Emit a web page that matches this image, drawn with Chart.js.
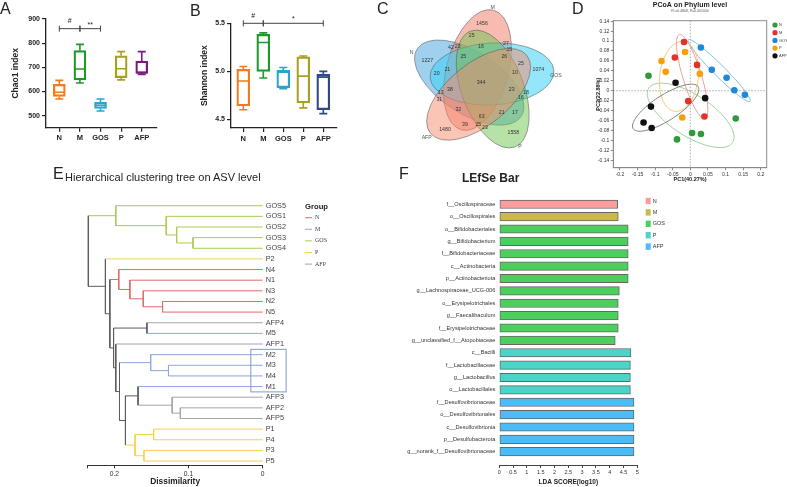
<!DOCTYPE html>
<html>
<head>
<meta charset="utf-8">
<title>Gut microbiota panels</title>
<script src="https://cdn.jsdelivr.net/npm/chart.js@4.4.1/dist/chart.umd.min.js"></script>
<style>
  body { margin: 0; background: #fff; }
  #fig { position: relative; width: 787px; height: 487px; overflow: hidden; font-family: "Liberation Sans", Arial, sans-serif; color: #222; }
  #fig canvas { position: absolute; }
  .tag { position: absolute; font-size: 16px; line-height: 16px; }
  .ttl { position: absolute; line-height: 1; white-space: nowrap; }
</style>
</head>
<body>
<div id="fig">
  <canvas id="chao" width="165" height="150" style="left:0;top:0"></canvas>
  <canvas id="shannon" width="180" height="150" style="left:165px;top:0"></canvas>
  <canvas id="venn" width="175" height="160" style="left:395px;top:0"></canvas>
  <canvas id="pcoa" width="217" height="190" style="left:570px;top:0"></canvas>
  <canvas id="tree" width="340" height="327" style="left:0;top:160px"></canvas>
  <canvas id="lefse" width="447" height="327" style="left:340px;top:160px"></canvas>

  <div class="tag" style="left:0;top:1px">A</div>
  <div class="tag" style="left:190px;top:3px">B</div>
  <div class="tag" style="left:377px;top:1px">C</div>
  <div class="tag" style="left:572px;top:1px">D</div>
  <div class="tag" style="left:53px;top:166px">E</div>
  <div class="tag" style="left:399px;top:166px">F</div>
  <div class="ttl" style="left:65px;top:172px;font-size:11px">Hierarchical clustering tree on ASV level</div>
  <div class="ttl" style="left:462px;top:172px;font-size:12px;font-weight:bold">LEfSe Bar</div>
</div>

<script>
// ---- data ----
const groups = ['N', 'M', 'GOS', 'P', 'AFP'];

// A: Chao1 index (box: min, q1, median, q3, max)
const chaoMin = [569, 635, 519, 648, 670];
const chaoQ1  = [579, 648, 530, 657, 675];
const chaoMed = [597, 693, 543, 694, 678];
const chaoQ3  = [630, 769, 555, 748, 726];
const chaoMax = [646, 795, 569, 765, 765];
const chaoTicks = [500, 600, 700, 800, 900];
const chaoSig = [['N', 'M', '#'], ['M', 'GOS', '**']];

// B: Shannon index
const shanMin = [4.60, 4.93, 4.82, 4.62, 4.56];
const shanQ1  = [4.64, 5.00, 4.83, 4.67, 4.60];
const shanMed = [4.90, 5.30, 4.99, 4.95, 4.94];
const shanQ3  = [5.02, 5.385, 5.01, 5.15, 4.97];
const shanMax = [5.05, 5.40, 5.04, 5.16, 5.00];
const shanTicks = [4.5, 5.0, 5.5];
const shanSig = [['N', 'M', '#'], ['M', 'AFP', '*']];

// C: Venn counts (region labels) and set names
const vennSets = ['N', 'M', 'GOS', 'P', 'AFP'];
const vennCounts = [1456, 25, 42, 23, 16, 27, 15, 1227, 25, 26, 25, 1074, 20, 21, 10, 344,
                    38, 23, 18, 13, 31, 16, 32, 21, 17, 63, 39, 25, 23, 1480, 1558];

// D: PCoA coordinates [PC1, PC2]
const pcoaN   = [[-0.119, 0.030], [0.129, -0.056], [-0.038, -0.098], [0.005, -0.085], [0.030, -0.087]];
const pcoaM   = [[-0.018, 0.098], [-0.044, 0.067], [0.019, 0.052], [-0.006, -0.021], [0.040, -0.052]];
const pcoaGOS = [[0.030, 0.087], [0.061, 0.042], [0.103, 0.026], [0.125, 0.001], [0.155, -0.008]];
const pcoaP   = [[-0.082, 0.060], [-0.070, 0.038], [-0.015, 0.078], [0.027, 0.034], [-0.023, -0.054]];
const pcoaAFP = [[-0.042, 0.016], [0.042, -0.015], [-0.112, -0.032], [-0.133, -0.064], [-0.110, -0.075]];
const pcoaXTicks = [-0.2, -0.15, -0.1, -0.05, 0, 0.05, 0.1, 0.15, 0.2];
const pcoaYTicks = [-0.14, -0.12, -0.1, -0.08, -0.06, -0.04, -0.02, 0, 0.02, 0.04, 0.06, 0.08, 0.1, 0.12, 0.14];

// E: dendrogram leaves (top to bottom) and merges [childA, childB, height]
const leaves = ['GOS5', 'GOS1', 'GOS2', 'GOS3', 'GOS4', 'P2', 'N4', 'N1', 'N3', 'N2', 'N5', 'AFP4', 'M5',
                'AFP1', 'M2', 'M3', 'M4', 'M1', 'AFP3', 'AFP2', 'AFP5', 'P1', 'P4', 'P3', 'P5'];
const dendroMerges = [
  ['GOS3', 'GOS4', 0.094], ['GOS2', 0, 0.116], ['GOS1', 1, 0.130], ['GOS5', 2, 0.198],
  ['N2', 'N5', 0.135], ['N3', 4, 0.161], ['N1', 5, 0.179], ['N4', 6, 0.194],
  ['AFP4', 'M5', 0.156], ['M3', 'M4', 0.127], ['M2', 9, 0.151],
  ['AFP2', 'AFP5', 0.111], ['AFP3', 11, 0.122], ['M1', 12, 0.168],
  ['P1', 'P4', 0.147], ['P3', 'P5', 0.160], [14, 15, 0.172],
  [13, 16, 0.185], [10, 17, 0.193], ['AFP1', 18, 0.198], [8, 19, 0.201],
  [7, 20, 0.206], ['P2', 21, 0.212], [3, 22, 0.235]
];
const dendroTicks = [0, 0.1, 0.2];

// F: LEfSe
const lefseTaxa = ['f__Oscillospiraceae', 'o__Oscillospirales', 'o__Bifidobacteriales', 'g__Bifidobacterium',
  'f__Bifidobacteriaceae', 'c__Actinobacteria', 'p__Actinobacteriota', 'g__Lachnospiraceae_UCG-006',
  'o__Erysipelotrichales', 'g__Faecalibaculum', 'f__Erysipelotrichaceae', 'g__unclassified_f__Atopobiaceae',
  'c__Bacilli', 'f__Lactobacillaceae', 'g__Lactobacillus', 'o__Lactobacillales', 'f__Desulfovibrionaceae',
  'o__Desulfovibrionales', 'c__Desulfovibrionia', 'p__Desulfobacterota', 'g__norank_f__Desulfovibrionaceae'];
const lefseGroup = ['N', 'M', 'GOS', 'GOS', 'GOS', 'GOS', 'GOS', 'GOS', 'GOS', 'GOS', 'GOS', 'GOS',
  'P', 'P', 'P', 'P', 'AFP', 'AFP', 'AFP', 'AFP', 'AFP'];
const lefseLDA = [4.29, 4.31, 4.67, 4.67, 4.67, 4.67, 4.67, 4.35, 4.31, 4.31, 4.31, 4.20,
  4.77, 4.75, 4.75, 4.75, 4.88, 4.88, 4.88, 4.88, 4.88];
const ldaTicks = [0, 0.5, 1, 1.5, 2, 2.5, 3, 3.5, 4, 4.5, 5];

// ---- styling ----
const FONT = '"Liberation Sans", Arial, sans-serif';
Chart.defaults.font.family = FONT;
Chart.defaults.color = '#222';
Chart.defaults.animation = false;
Chart.defaults.responsive = false;
Chart.defaults.plugins.legend.display = false;
Chart.defaults.plugins.tooltip.enabled = false;

const fixSize = size => scale => {
  if (scale.isHorizontal()) scale.height = size; else scale.width = size;
};

// ---- A & B: box plots ----
function boxPlot(id, s) {
  const boxParts = {
    id: 'boxParts',
    afterDatasetsDraw(chart) {
      const { ctx, scales: { x, y } } = chart;
      ctx.save();
      ctx.lineWidth = 1.6;
      groups.forEach((g, i) => {
        const cx = x.getPixelForValue(i);
        const top = y.getPixelForValue(s.max[i]), bot = y.getPixelForValue(s.min[i]);
        const q1 = y.getPixelForValue(s.q1[i]), q3 = y.getPixelForValue(s.q3[i]);
        const md = y.getPixelForValue(s.med[i]);
        ctx.strokeStyle = s.colors[i];
        ctx.beginPath();
        ctx.moveTo(cx, q3); ctx.lineTo(cx, top);
        ctx.moveTo(cx - s.capW / 2, top); ctx.lineTo(cx + s.capW / 2, top);
        ctx.moveTo(cx, q1); ctx.lineTo(cx, bot);
        ctx.moveTo(cx - s.capW / 2, bot); ctx.lineTo(cx + s.capW / 2, bot);
        ctx.moveTo(cx - s.boxW / 2 + 1, md); ctx.lineTo(cx + s.boxW / 2 - 1, md);
        ctx.stroke();
      });
      // significance brackets
      const by = y.getPixelForValue(s.sigLevel);
      ctx.strokeStyle = '#444';
      ctx.lineWidth = 1;
      ctx.fillStyle = '#222';
      ctx.font = '7px ' + FONT;
      ctx.textAlign = 'center';
      s.sig.forEach(([a, b, txt]) => {
        const x1 = x.getPixelForValue(groups.indexOf(a));
        const x2 = x.getPixelForValue(groups.indexOf(b));
        ctx.beginPath();
        ctx.moveTo(x1, by); ctx.lineTo(x2, by);
        ctx.moveTo(x1, by - 3); ctx.lineTo(x1, by + 3);
        ctx.moveTo(x2, by - 3); ctx.lineTo(x2, by + 3);
        ctx.stroke();
        ctx.fillText(txt, (x1 + x2) / 2, by - (txt.includes('#') ? 5.5 : 2));
      });
      ctx.restore();
    }
  };

  return new Chart(document.getElementById(id), {
    type: 'bar',
    data: {
      datasets: [{
        data: groups.map((g, i) => ({ x: i, y: [s.q1[i], s.q3[i]] })),
        backgroundColor: 'rgba(255,255,255,0)',
        borderColor: s.colors,
        borderWidth: 1.6,
        borderSkipped: false,
        barThickness: s.boxW
      }]
    },
    options: {
      layout: { padding: s.pad },
      scales: {
        x: {
          type: 'linear', min: s.xMin, max: s.xMax, offset: false,
          afterBuildTicks: sc => { sc.ticks = groups.map((g, i) => ({ value: i })); },
          afterFit: fixSize(s.xH),
          ticks: { callback: v => groups[v], font: { size: 7.5, weight: 'bold' }, padding: 2, autoSkip: false, maxRotation: 0 },
          grid: { drawOnChartArea: false, offset: false, tickLength: 4, color: '#222', lineWidth: 1.2 },
          border: { color: '#222', width: 1.3 }
        },
        y: {
          min: s.yMin, max: s.yMax,
          afterBuildTicks: sc => { sc.ticks = s.ticks.map(v => ({ value: v })); },
          afterFit: fixSize(s.yW),
          ticks: { callback: s.fmt, font: { size: 7, weight: 'bold' }, padding: 2 },
          grid: { drawOnChartArea: false, tickLength: 4, color: '#222', lineWidth: 1.2 },
          border: { color: '#222', width: 1.3 },
          title: { display: true, text: s.title, font: { size: 8.5, weight: 'bold' }, padding: 0 }
        }
      }
    },
    plugins: [boxParts]
  });
}

boxPlot('chao', {
  min: chaoMin, q1: chaoQ1, med: chaoMed, q3: chaoQ3, max: chaoMax,
  colors: ['#f47a1f', '#1f9a2a', '#2aa5c8', '#a8a020', '#7a1a7a'],
  ticks: chaoTicks, fmt: v => String(v), title: 'Chao1 index',
  sig: chaoSig, sigLevel: 860,
  yMin: 450, yMax: 900, xMin: -0.646, xMax: 4.74,
  pad: { left: 10.6, top: 19, right: 8, bottom: 0 }, yW: 35.4, xH: 22.3,
  boxW: 12, capW: 8
});

boxPlot('shannon', {
  min: shanMin, q1: shanQ1, med: shanMed, q3: shanQ3, max: shanMax,
  colors: ['#f47a1f', '#1f9a2a', '#2aa5c8', '#a8a020', '#2c4a80'],
  ticks: shanTicks, fmt: v => v.toFixed(1), title: 'Shannon index',
  sig: shanSig, sigLevel: 5.5,
  yMin: 4.41, yMax: 5.5, xMin: -0.615, xMax: 4.685,
  pad: { left: 34.8, top: 23.3, right: 8, bottom: 0 }, yW: 31.2, xH: 22,
  boxW: 13, capW: 8
});

// ---- C: five-set Venn ----
const vennColors = { N: 'rgba(80,170,222,0.55)', M: 'rgba(242,120,100,0.5)', GOS: 'rgba(60,210,245,0.55)',
                     P: 'rgba(110,196,80,0.5)', AFP: 'rgba(248,140,110,0.5)' };
// layout: ellipses are one shape rotated by 72 degree steps about the centre
const vennGeom = { cx: 482, cy: 82, off: 12.8, offAngle: 321.3, major: 357, a: 62, b: 31 };
const vennRot = { N: 3, M: 4, GOS: 0, P: 1, AFP: 2 };
const vennSetPos = { N: [411.7, 52.3], M: [492.7, 7.3], GOS: [556, 75.3], P: [520, 146.7], AFP: [426.7, 137.3] };
const vennCountPos = [[482, 23.3], [471.7, 36], [451, 47.7], [457.7, 46.7], [481, 46.7], [506, 43.3], [509.3, 50],
  [427.3, 60.7], [463.3, 56.7], [504.3, 56.7], [521, 63.3], [538.3, 70], [436.7, 74], [447.3, 70], [515, 72.7],
  [481, 82.7], [450, 90], [511.7, 90], [526, 92.7], [440.7, 92.7], [439.3, 100], [521, 97.7], [458.3, 110],
  [501.7, 112.7], [515, 112.7], [481.7, 116.7], [465, 125], [478.3, 125], [485, 127.7], [445, 129.3], [513.3, 132.7]];

const vennDraw = {
  id: 'vennDraw',
  afterDatasetsDraw(chart) {
    const { ctx, scales: { x, y } } = chart;
    const k = x.getPixelForValue(1) - x.getPixelForValue(0);
    const rad = d => d * Math.PI / 180;
    ctx.save();
    vennSets.forEach(set => {
      const r = vennRot[set] * 72;
      const oa = rad(vennGeom.offAngle + r);
      const ex = vennGeom.cx + vennGeom.off * Math.cos(oa);
      const ey = vennGeom.cy + vennGeom.off * Math.sin(oa);
      ctx.beginPath();
      ctx.ellipse(x.getPixelForValue(ex), y.getPixelForValue(ey), vennGeom.a * k, vennGeom.b * k,
                  rad(vennGeom.major + r), 0, Math.PI * 2);
      ctx.fillStyle = vennColors[set];
      ctx.fill();
      ctx.strokeStyle = 'rgba(90,90,90,0.7)';
      ctx.lineWidth = 0.8;
      ctx.stroke();
    });
    ctx.fillStyle = '#333';
    ctx.textAlign = 'center';
    ctx.textBaseline = 'middle';
    ctx.font = '5.2px ' + FONT;
    vennCounts.forEach((c, i) => {
      const [px, py] = vennCountPos[i];
      ctx.fillText(String(c), x.getPixelForValue(px), y.getPixelForValue(py));
    });
    ctx.fillStyle = '#555';
    vennSets.forEach(set => {
      const [px, py] = vennSetPos[set];
      ctx.fillText(set, x.getPixelForValue(px), y.getPixelForValue(py));
    });
    ctx.restore();
  }
};

new Chart(document.getElementById('venn'), {
  type: 'scatter',
  data: { datasets: [{ data: [] }] },
  options: {
    layout: { padding: 0 },
    scales: {
      x: { display: false, min: 395, max: 570 },
      y: { display: false, min: 0, max: 160, reverse: true }
    }
  },
  plugins: [vennDraw]
});

// ---- D: PCoA ----
const pcoaSeries = { N: pcoaN, M: pcoaM, GOS: pcoaGOS, P: pcoaP, AFP: pcoaAFP };
const pcoaColors = { N: '#2e9a3a', M: '#e8302a', GOS: '#1f88d8', P: '#f5a00a', AFP: '#111111' };
const pcoaEllColors = { N: '#9fd09f', M: '#f39a9a', GOS: '#7cbce8', P: '#f8c870', AFP: '#808080' };
// confidence ellipses: centre plus two semi-axis vectors, in data units
const pcoaEllipses = {
  N:   { c: [0.0009, -0.0496], u: [0.1192, -0.0547], v: [-0.0320, -0.0348] },
  M:   { c: [0.0052, 0.0285],  u: [0.0365, -0.0847], v: [0.0254, 0.0054] },
  GOS: { c: [0.0820, 0.0405],  u: [0.0877, -0.0620], v: [0.0114, 0.0080] },
  P:   { c: [-0.0322, 0.0288], u: [0.01185, 0.0703], v: [0.0546, -0.0046] },
  AFP: { c: [-0.0701, -0.0342], u: [0.0922, 0.0423], v: [0.0196, -0.0214] }
};

const pcoaDecor = {
  id: 'pcoaDecor',
  beforeDatasetsDraw(chart) {
    const { ctx, chartArea: a, scales: { x, y } } = chart;
    ctx.save();
    ctx.strokeStyle = '#9a9a9a';
    ctx.lineWidth = 0.8;
    ctx.setLineDash([1.5, 1.5]);
    ctx.beginPath();
    ctx.moveTo(x.getPixelForValue(0), a.top); ctx.lineTo(x.getPixelForValue(0), a.bottom);
    ctx.moveTo(a.left, y.getPixelForValue(0)); ctx.lineTo(a.right, y.getPixelForValue(0));
    ctx.stroke();
    ctx.setLineDash([]);
    ctx.lineWidth = 1;
    Object.keys(pcoaEllipses).forEach(g => {
      const e = pcoaEllipses[g];
      ctx.strokeStyle = pcoaEllColors[g];
      ctx.beginPath();
      for (let k = 0; k <= 90; k++) {
        const t = k / 90 * Math.PI * 2;
        const px = x.getPixelForValue(e.c[0] + e.u[0] * Math.cos(t) + e.v[0] * Math.sin(t));
        const py = y.getPixelForValue(e.c[1] + e.u[1] * Math.cos(t) + e.v[1] * Math.sin(t));
        if (k) ctx.lineTo(px, py); else ctx.moveTo(px, py);
      }
      ctx.closePath();
      ctx.stroke();
    });
    ctx.restore();
  },
  afterDraw(chart) {
    const { ctx, chartArea: a } = chart;
    ctx.save();
    ctx.strokeStyle = '#8a8a8a';
    ctx.lineWidth = 1;
    ctx.strokeRect(a.left, a.top, a.right - a.left, a.bottom - a.top);
    ctx.fillStyle = '#222';
    ctx.textAlign = 'center';
    ctx.textBaseline = 'middle';
    ctx.font = 'bold 7px ' + FONT;
    ctx.fillText('PCoA on Phylum level', (a.left + a.right) / 2, 5);
    ctx.font = '3.5px ' + FONT;
    ctx.fillStyle = '#555';
    ctx.fillText('R\u00b2=0.4808, P=0.001000', (a.left + a.right) / 2, 11);
    ctx.textAlign = 'left';
    ctx.font = '4px ' + FONT;
    chart.data.datasets.forEach((ds, i) => {
      const ly = 25 + i * 7.7;
      ctx.fillStyle = ds.backgroundColor;
      ctx.beginPath();
      ctx.arc(a.right + 8.3, ly, 2.6, 0, Math.PI * 2);
      ctx.fill();
      ctx.fillStyle = '#444';
      ctx.fillText(ds.label, a.right + 12.3, ly);
    });
    ctx.restore();
  }
};

const pcoaAxis = (ticks, title, size) => ({
  afterBuildTicks: sc => { sc.ticks = ticks.map(v => ({ value: v })); },
  afterFit: fixSize(size),
  ticks: { callback: v => String(v), font: { size: 5 }, color: '#333', padding: 1.5, autoSkip: false, maxRotation: 0 },
  grid: { drawOnChartArea: false, tickLength: 2.5, color: '#8a8a8a' },
  border: { color: '#8a8a8a' },
  title: { display: true, text: title, font: { size: 5.5, weight: 'bold' }, padding: 0 }
});

new Chart(document.getElementById('pcoa'), {
  type: 'scatter',
  data: {
    datasets: groups.map(g => ({
      label: g,
      data: pcoaSeries[g].map(([x, y]) => ({ x, y })),
      backgroundColor: pcoaColors[g],
      borderWidth: 0,
      pointRadius: 3.3
    }))
  },
  options: {
    layout: { padding: { left: 24.7, top: 20.7, right: 20.3, bottom: 7 } },
    scales: {
      x: Object.assign({ min: -0.219, max: 0.217 }, pcoaAxis(pcoaXTicks, 'PC1(40.27%)', 15.3)),
      y: Object.assign({ min: -0.155, max: 0.141 }, pcoaAxis(pcoaYTicks, 'PC2(22.88%)', 18.6))
    }
  },
  plugins: [pcoaDecor]
});

// ---- E: hierarchical clustering tree ----
const treeColors = { N: '#e06a6a', M: '#8ca6de', GOS: '#a9cb4e', P: '#f2d34e', AFP: '#a4a4a4' };
const mixedColor = '#5c5c5c';
const groupOf = name => name.replace(/\d+$/, '');
const nodes = [];
const segments = [];
const nodeOf = ref => typeof ref === 'string'
  ? { x: 0, y: leaves.indexOf(ref), groups: [groupOf(ref)] }
  : nodes[ref];
const colorOf = n => n.groups.length === 1 ? treeColors[n.groups[0]] : mixedColor;
dendroMerges.forEach(([a, b, h]) => {
  const A = nodeOf(a), B = nodeOf(b);
  const node = { x: h, y: (A.y + B.y) / 2, groups: [...new Set([...A.groups, ...B.groups])] };
  segments.push({ pts: [[A.x, A.y], [h, A.y]], color: colorOf(A) });
  segments.push({ pts: [[B.x, B.y], [h, B.y]], color: colorOf(B) });
  segments.push({ pts: [[h, A.y], [h, B.y]], color: colorOf(node) });
  nodes.push(node);
});

const treeDecor = {
  id: 'treeDecor',
  afterDraw(chart) {
    const { ctx, scales: { x, y } } = chart;
    ctx.save();
    // box round the M2-M4/M1 labels
    const left = x.getPixelForValue(0.016);
    const top = y.getPixelForValue(leaves.indexOf('M2') - 0.5);
    const bot = y.getPixelForValue(leaves.indexOf('M1') + 0.5);
    ctx.strokeStyle = '#8098cc';
    ctx.lineWidth = 1;
    ctx.strokeRect(left, top, 35.3, bot - top);
    // group legend
    ctx.fillStyle = '#222';
    ctx.font = 'bold 7.7px ' + FONT;
    ctx.textBaseline = 'middle';
    ctx.fillText('Group', 305, 46.7);
    ctx.font = '6px "Liberation Serif", "DejaVu Serif", serif';
    groups.forEach((g, i) => {
      const ly = 57.7 + i * 11.6;
      ctx.strokeStyle = treeColors[g];
      ctx.beginPath();
      ctx.moveTo(305, ly); ctx.lineTo(312, ly);
      ctx.stroke();
      ctx.fillStyle = '#444';
      ctx.fillText(g, 315, ly);
    });
    ctx.restore();
  }
};

new Chart(document.getElementById('tree'), {
  type: 'scatter',
  data: {
    datasets: segments.map(s => ({
      data: s.pts.map(([x, y]) => ({ x, y })),
      showLine: true, borderColor: s.color, borderWidth: 1, pointRadius: 0, clip: false
    }))
  },
  options: {
    layout: { padding: { left: 87.6, top: 40.4, right: 0, bottom: 0 } },
    scales: {
      x: {
        min: 0, max: 0.236, reverse: true,
        afterBuildTicks: sc => { sc.ticks = dendroTicks.concat([0.236]).map(v => ({ value: v })); },
        afterFit: fixSize(21.7),
        ticks: { callback: v => dendroTicks.includes(v) ? String(v) : '', font: { size: 6.7 }, color: '#333', padding: 2, autoSkip: false, maxRotation: 0 },
        grid: { drawOnChartArea: false, tickLength: 3, color: '#333' },
        border: { color: '#333' },
        title: { display: true, text: 'Dissimilarity', font: { size: 8.4, weight: 'bold' }, padding: 0 }
      },
      y: {
        position: 'right', min: -0.5, max: 24.4, reverse: true,
        afterBuildTicks: sc => { sc.ticks = leaves.map((l, i) => ({ value: i })); },
        afterFit: fixSize(77.3),
        ticks: { callback: v => leaves[v], font: { size: 7.3 }, color: '#444', padding: 3, autoSkip: false },
        grid: { display: false, drawTicks: false },
        border: { display: false }
      }
    }
  },
  plugins: [treeDecor]
});

// ---- F: LEfSe bars ----
const lefseColors = { N: '#fb9d9b', M: '#cdb84c', GOS: '#4ccf5c', P: '#4bd4c8', AFP: '#4bbcf8' };

const lefseLegend = {
  id: 'lefseLegend',
  afterDraw(chart) {
    const { ctx, chartArea: a } = chart;
    ctx.save();
    ctx.font = '5.5px ' + FONT;
    ctx.textBaseline = 'middle';
    chart.data.datasets.forEach((ds, i) => {
      const ly = 41 + i * 11.4;
      ctx.fillStyle = ds.backgroundColor;
      ctx.fillRect(a.right + 8.4, ly - 3.2, 5, 6.4);
      ctx.fillStyle = '#333';
      ctx.fillText(ds.label, a.right + 15.5, ly);
    });
    ctx.restore();
  }
};

new Chart(document.getElementById('lefse'), {
  type: 'bar',
  data: {
    datasets: groups.map(g => ({
      label: g,
      data: lefseTaxa.map((t, i) => ({ x: lefseLDA[i], y: i })).filter((d, i) => lefseGroup[i] === g),
      backgroundColor: lefseColors[g],
      borderColor: '#666',
      borderWidth: 1,
      borderSkipped: false,
      barThickness: 8.5,
      grouped: false
    }))
  },
  options: {
    indexAxis: 'y',
    layout: { padding: { left: 0, top: 38.1, right: 149.7, bottom: 1 } },
    scales: {
      x: {
        type: 'linear', min: 0, max: 5,
        afterBuildTicks: sc => { sc.ticks = ldaTicks.map(v => ({ value: v })); },
        afterFit: fixSize(21),
        ticks: { callback: v => String(v), font: { size: 5.5 }, color: '#333', padding: 1.5, autoSkip: false, maxRotation: 0 },
        grid: { drawOnChartArea: false, tickLength: 3, color: '#444' },
        border: { color: '#444' },
        title: { display: true, text: 'LDA SCORE(log10)', font: { size: 6.5, weight: 'bold' }, padding: 0 }
      },
      y: {
        type: 'linear', min: -0.5, max: 21.075, reverse: true, offset: false,
        afterBuildTicks: sc => { sc.ticks = lefseTaxa.map((t, i) => ({ value: i })); },
        afterFit: fixSize(159.3),
        ticks: { callback: v => lefseTaxa[v], font: { size: 5.6 }, color: '#333', padding: 4, autoSkip: false },
        grid: { display: false, drawTicks: false, offset: false },
        border: { display: false }
      }
    }
  },
  plugins: [lefseLegend]
});
</script>
</body>
</html>
